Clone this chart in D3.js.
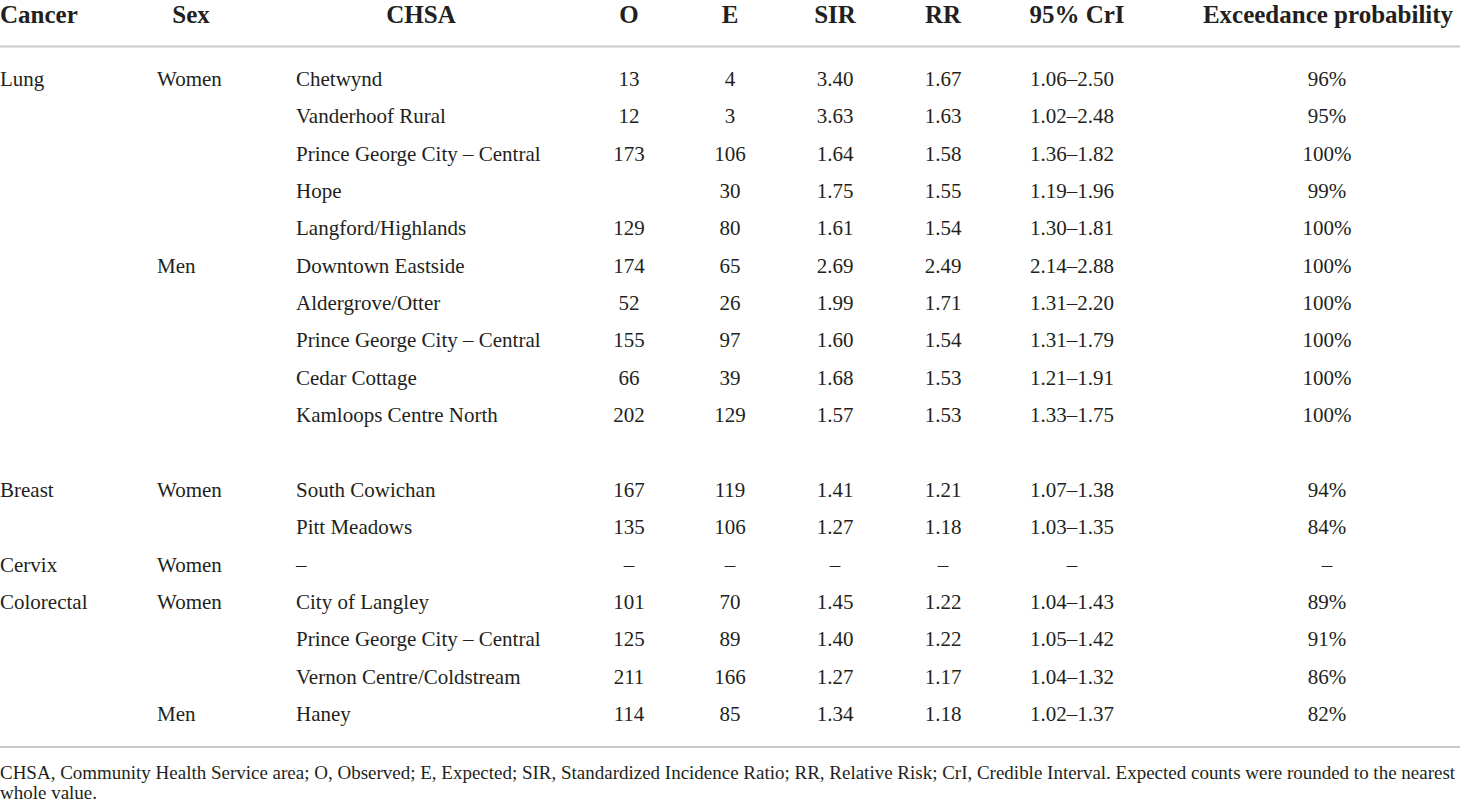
<!DOCTYPE html>
<html>
<head>
<meta charset="utf-8">
<script src="https://cdn.jsdelivr.net/npm/d3@7"></script>
<style>
  html, body { margin: 0; padding: 0; background: #fff; }
  svg { display: block; }
  text { font-family: "Liberation Serif", "Times New Roman", serif; fill: #231f20; }
  .head { font-weight: bold; font-size: 25px; }
  .cell { font-size: 21px; }
  .note { font-size: 17.5px; }
</style>
</head>
<body>
<script>
// table values (row 10 is the blank gap between Lung and Breast)
const cancer = ["Lung", "", "", "", "", "", "", "", "", "", "", "Breast", "", "Cervix", "Colorectal", "", "", ""];
const sex = ["Women", "", "", "", "", "Men", "", "", "", "", "", "Women", "", "Women", "Women", "", "", "Men"];
const chsa = ["Chetwynd", "Vanderhoof Rural", "Prince George City – Central", "Hope", "Langford/Highlands",
  "Downtown Eastside", "Aldergrove/Otter", "Prince George City – Central", "Cedar Cottage", "Kamloops Centre North", "",
  "South Cowichan", "Pitt Meadows", "–", "City of Langley", "Prince George City – Central", "Vernon Centre/Coldstream", "Haney"];
const observed = ["13", "12", "173", "", "129", "174", "52", "155", "66", "202", "", "167", "135", "–", "101", "125", "211", "114"];
const expected = ["4", "3", "106", "30", "80", "65", "26", "97", "39", "129", "", "119", "106", "–", "70", "89", "166", "85"];
const sir = ["3.40", "3.63", "1.64", "1.75", "1.61", "2.69", "1.99", "1.60", "1.68", "1.57", "", "1.41", "1.27", "–", "1.45", "1.40", "1.27", "1.34"];
const rr = ["1.67", "1.63", "1.58", "1.55", "1.54", "2.49", "1.71", "1.54", "1.53", "1.53", "", "1.21", "1.18", "–", "1.22", "1.22", "1.17", "1.18"];
const cri = ["1.06–2.50", "1.02–2.48", "1.36–1.82", "1.19–1.96", "1.30–1.81", "2.14–2.88", "1.31–2.20", "1.31–1.79", "1.21–1.91", "1.33–1.75", "",
  "1.07–1.38", "1.03–1.35", "–", "1.04–1.43", "1.05–1.42", "1.04–1.32", "1.02–1.37"];
const exceedance = ["96%", "95%", "100%", "99%", "100%", "100%", "100%", "100%", "100%", "100%", "",
  "94%", "84%", "–", "89%", "91%", "86%", "82%"];
const headers = ["Cancer", "Sex", "CHSA", "O", "E", "SIR", "RR", "95% CrI", "Exceedance probability"];
const footnote = [
  "CHSA, Community Health Service area; O, Observed; E, Expected; SIR, Standardized Incidence Ratio; RR, Relative Risk; CrI, Credible Interval. Expected counts were rounded to the nearest",
  "whole value."
];

const width = 1460, height = 803;
const svg = d3.select("body").append("svg").attr("width", width).attr("height", height);

// column layout: header anchor/x and body anchor/x
const cols = [
  { values: cancer, hx: 0, ha: "start", bx: 0, ba: "start" },
  { values: sex, hx: 191, ha: "middle", bx: 157, ba: "start" },
  { values: chsa, hx: 421, ha: "middle", bx: 296, ba: "start" },
  { values: observed, hx: 629, ha: "middle", bx: 629, ba: "middle" },
  { values: expected, hx: 730, ha: "middle", bx: 730, ba: "middle" },
  { values: sir, hx: 835, ha: "middle", bx: 835, ba: "middle" },
  { values: rr, hx: 943, ha: "middle", bx: 943, ba: "middle" },
  { values: cri, hx: 1077, ha: "middle", bx: 1072, ba: "middle" },
  { values: exceedance, hx: 1328, ha: "middle", bx: 1327, ba: "middle" }
];

const y = d3.scaleLinear().domain([0, chsa.length - 1]).range([86, 721]);

// header
svg.append("g").selectAll("text")
  .data(headers)
  .join("text")
  .attr("class", "head")
  .attr("x", (d, i) => cols[i].hx)
  .attr("y", 23)
  .attr("text-anchor", (d, i) => cols[i].ha)
  .text(d => d);

// rules
svg.append("line").attr("x1", 0).attr("x2", width).attr("y1", 46.5).attr("y2", 46.5)
  .attr("stroke", "#c8c8c8").attr("stroke-width", 2);
svg.append("line").attr("x1", 0).attr("x2", width).attr("y1", 747).attr("y2", 747)
  .attr("stroke", "#c8c8c8").attr("stroke-width", 2);

// body cells
cols.forEach(c => {
  svg.append("g").selectAll("text")
    .data(c.values)
    .join("text")
    .attr("class", "cell")
    .attr("x", c.bx)
    .attr("y", (d, i) => y(i))
    .attr("text-anchor", c.ba)
    .text(d => d);
});

// footnote, first line scaled to span the full width
const note = svg.append("g").selectAll("text")
  .data(footnote)
  .join("text")
  .attr("class", "note")
  .attr("x", 0)
  .attr("y", (d, i) => 779 + i * 20)
  .text(d => d);
const w = note.node().getComputedTextLength();
note.style("font-size", (17.5 * 1456 / w) + "px");
</script>
</body>
</html>
